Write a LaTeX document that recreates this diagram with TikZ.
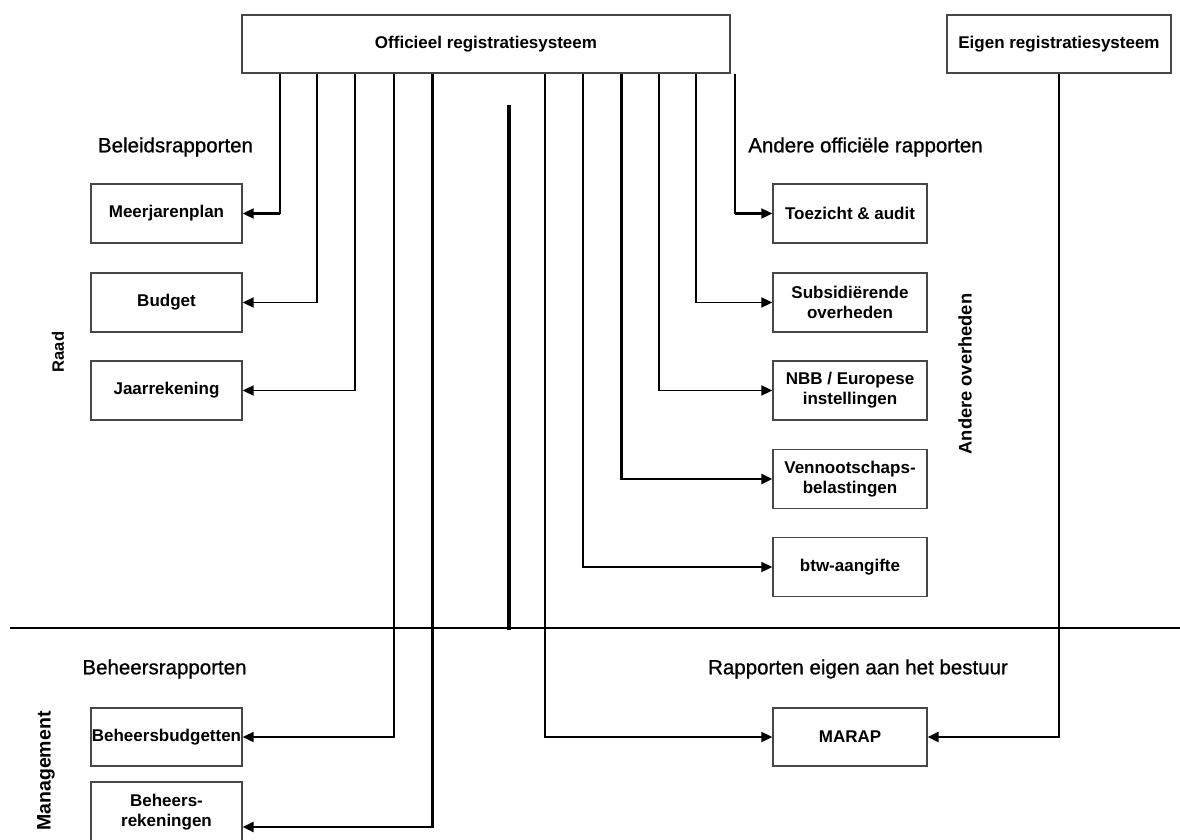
\documentclass[tikz,border=0pt]{standalone}
\usepackage{fontspec}
\setmainfont{Liberation Sans}
\newfontfamily\semib{Liberation Sans}[FakeBold=0.9]
\usetikzlibrary{arrows.meta}
\begin{document}
\begin{tikzpicture}[x=1pt,y=-1pt,
  box/.style={draw=black!72, line width=1.3pt, align=center, inner sep=0pt,
    font=\fontsize{17}{20}\selectfont\bfseries},
  lbl/.style={font=\semib\fontsize{20.5}{24}\selectfont, inner sep=0pt},
  rot/.style={rotate=90, inner sep=0pt},
  tip/.tip={Triangle[length=11pt,width=10pt]},
  conn/.style={line width=1.8pt, -tip},
  thk/.style={line width=3pt},
]
\useasboundingbox (0,0) rectangle (1180,839);

% registration systems
\node[box, minimum width=488pt, minimum height=58pt] (top) at (486,44) {Officieel registratiesysteem};
\node[box, minimum width=224pt, minimum height=58pt] (eigen) at (1059,44) {Eigen registratiesysteem};

% left boxes
\node[box, minimum width=151pt, minimum height=59pt] (mjp) at (166.5,213.5) {Meerjarenplan};
\node[box, minimum width=151pt, minimum height=59pt] (bud) at (166.5,302.5) {Budget};
\node[box, minimum width=151pt, minimum height=59pt] (jaar) at (166.5,390.5) {Jaarrekening};
\node[box, minimum width=151pt, minimum height=58pt] (bbud) at (166.5,737) {Beheersbudgetten};
\node[box, minimum width=151pt, minimum height=60pt] (brek) at (166.5,812) {Beheers-\\rekeningen};

% right boxes
\node[box, minimum width=154pt, minimum height=59pt] (toe) at (850,213.5) {Toezicht \& audit};
\node[box, minimum width=154pt, minimum height=59pt] (sub) at (850,302.5) {Subsidiërende\\overheden};
\node[box, minimum width=154pt, minimum height=59pt] (nbb) at (850,390.5) {NBB / Europese\\instellingen};
\node[box, minimum width=154pt, minimum height=59pt] (ven) at (850,479) {Vennootschaps-\\belastingen};
\node[box, minimum width=154pt, minimum height=59pt] (btw) at (850,567) {btw-aangifte};
\node[box, minimum width=154pt, minimum height=58pt] (marap) at (850,737) {MARAP};

% labels
\node[lbl] (l1) at (175.5,147) {Beleidsrapporten};
\node[lbl] (l2) at (865.5,147) {Andere officiële rapporten};
\node[lbl] (l3) at (164.5,669) {Beheersrapporten};
\node[lbl] (l4) at (858,669) {Rapporten eigen aan het bestuur};
\node[rot, font=\fontsize{16.5}{20}\selectfont\bfseries] (raad) at (58,352) {Raad};
\node[rot, font=\fontsize{18.3}{22}\selectfont\bfseries] (ao) at (965,374) {Andere overheden};
\node[rot, font=\fontsize{19.5}{22}\selectfont\bfseries] (man) at (46,771) {Management};

% connector start points on the official system
\coordinate (c1) at ([xshift=39pt]top.south west);
\coordinate (c2) at ([xshift=76pt]top.south west);
\coordinate (c3) at ([xshift=114pt]top.south west);
\coordinate (c4) at ([xshift=153pt]top.south west);
\coordinate (c5) at ([xshift=191pt]top.south west);
\coordinate (c6) at ([xshift=304pt]top.south west);
\coordinate (c7) at ([xshift=342pt]top.south west);
\coordinate (c8) at ([xshift=380pt]top.south west);
\coordinate (c9) at ([xshift=418pt]top.south west);
\coordinate (c10) at ([xshift=455pt]top.south west);
\coordinate (c11) at ([xshift=494pt]top.south west);

% divider and central bar
\coordinate (d1) at (10,628);
\coordinate (d2) at (1180,628);
\draw[line width=2.5pt] (d1) -- (d2);
\coordinate (m1) at (509,105);
\coordinate (m2) at (509,630);
\draw[line width=3.5pt] (m1) -- (m2);

% connectors
\draw[conn] (c1) |- (mjp.east);
\draw[thk] (mjp.east -| c1) -- ([xshift=10pt]mjp.east);
\draw[conn] (c2) |- (bud.east);
\draw[conn] (c3) |- (jaar.east);
\draw[conn] (c4) |- (bbud.east);
\draw[conn, line width=2.6pt] (c5) |- ([yshift=-15pt]brek.east);
\draw[conn] (c6) |- (marap.west);
\draw[conn] (c7) |- (btw.west);
\draw[conn, line width=2.6pt] (c8) |- (ven.west);
\draw[conn] (c9) |- (nbb.west);
\draw[conn] (c10) |- (sub.west);
\draw[conn] (c11) |- (toe.west);
\draw[thk] (toe.west -| c11) -- ([xshift=-10pt]toe.west);
\draw[conn, line width=2.4pt] (eigen.south) |- (marap.east);
\end{tikzpicture}
\end{document}
